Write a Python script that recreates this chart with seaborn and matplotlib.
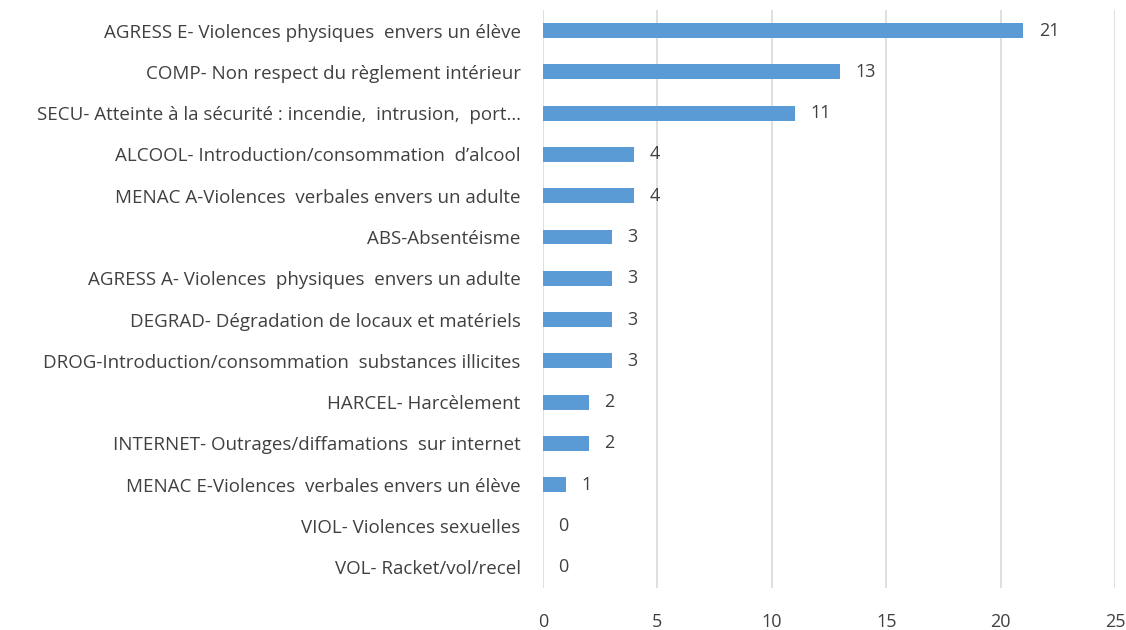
import seaborn as sns
import pandas as pd
from matplotlib import pyplot as plt

categories = [
    "AGRESS E- Violences physiques  envers un élève",
    "COMP- Non respect du règlement intérieur",
    "SECU- Atteinte à la sécurité : incendie,  intrusion,  port…",
    "ALCOOL- Introduction/consommation  d’alcool",
    "MENAC A-Violences  verbales envers un adulte",
    "ABS-Absentéisme",
    "AGRESS A- Violences  physiques  envers un adulte",
    "DEGRAD- Dégradation de locaux et matériels",
    "DROG-Introduction/consommation  substances illicites",
    "HARCEL- Harcèlement",
    "INTERNET- Outrages/diffamations  sur internet",
    "MENAC E-Violences  verbales envers un élève",
    "VIOL- Violences sexuelles",
    "VOL- Racket/vol/recel",
]
counts = [21, 13, 11, 4, 4, 3, 3, 3, 3, 2, 2, 1, 0, 0]
x_ticks = [0, 5, 10, 15, 20, 25]

df = pd.DataFrame({"Categorie": categories, "Nombre": counts})

sns.set_style("white")
plt.rcParams["font.family"] = ["Open Sans", "DejaVu Sans"]
text_color = "#404040"

fig = plt.figure(figsize=(11.26, 6.3), dpi=100)
ax = fig.add_axes([0.4822, 0.0667, 0.508, 0.9175])

sns.barplot(data=df, x="Nombre", y="Categorie", orient="h",
            color="#5B9BD5", width=0.36, saturation=1, linewidth=0, ax=ax)

ax.bar_label(ax.containers[0], padding=11, fontsize=13, color=text_color)

ax.set_xlim(0, 25)
ax.set_xticks(x_ticks)
ax.grid(axis="x", color="#d9d9d9", linewidth=1.2)
ax.set_axisbelow(True)
ax.set_xlabel("")
ax.set_ylabel("")
ax.tick_params(axis="x", length=0, pad=18, labelsize=13, labelcolor=text_color)
ax.tick_params(axis="y", length=0, pad=16, labelsize=13.5, labelcolor=text_color)
sns.despine(left=True, bottom=True, top=True, right=True)

fig.savefig("out.png", dpi=100)
